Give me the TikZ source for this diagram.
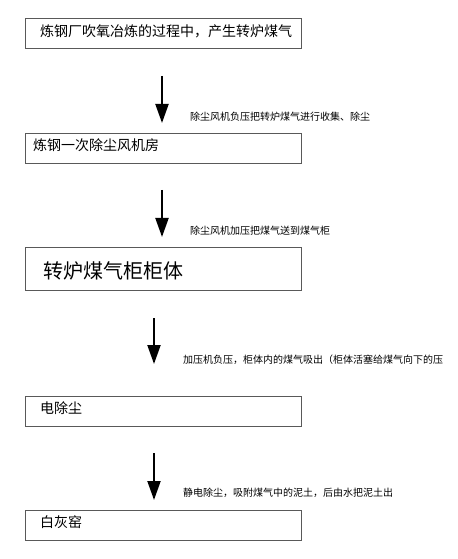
\documentclass[tikz,border=0pt]{standalone}
\usepackage{fontspec}
\newfontfamily\cjk{Noto Sans CJK SC}
\usetikzlibrary{arrows.meta}

\begin{document}
\begin{tikzpicture}[x=1bp,y=-1bp,
    stage/.style={draw=black!65,line width=0.8bp,anchor=north west,
                  minimum width=276bp,inner sep=0pt},%process box
    stagetext/.style={anchor=west,inner sep=0pt,font=\cjk\fontsize{14bp}{16bp}\selectfont},
    flow/.style={line width=2bp,-{Triangle[width=13bp,length=19bp]}},%thick down arrow
    note/.style={anchor=west,inner sep=0pt,font=\cjk\fontsize{10bp}{12bp}\selectfont}
                ]
\useasboundingbox (0,0) rectangle (458,559);
% boxes
\node[stage,minimum height=30bp] (furnace) at (25,18) {};
\node[stage,minimum height=30bp] (fanroom) at (25,133) {};
\node[stage,minimum height=43bp] (holder)  at (25,247) {};
\node[stage,minimum height=30bp] (esp)     at (25,396) {};
\node[stage,minimum height=30bp] (kiln)    at (25,510) {};
% box texts
\node[stagetext] (furnacetext) at (40,31)  {炼钢厂吹氧冶炼的过程中，产生转炉煤气};
\node[stagetext] (fanroomtext) at (33,145) {炼钢一次除尘风机房};
\node[stagetext,font=\cjk\fontsize{20bp}{22bp}\selectfont] (holdertext) at (43,271) {转炉煤气柜柜体};
\node[stagetext] (esptext)     at (40,408) {电除尘};
\node[stagetext] (kilntext)    at (40,522) {白灰窑};
% arrows
\coordinate (a1) at (162,76);  \coordinate (b1) at (162,123);
\coordinate (a2) at (162,190); \coordinate (b2) at (162,237);
\coordinate (a3) at (154,318); \coordinate (b3) at (154,364);
\coordinate (a4) at (154,453); \coordinate (b4) at (154,500);
\draw[flow] (a1) -- (b1);
\draw[flow] (a2) -- (b2);
\draw[flow] (a3) -- (b3);
\draw[flow] (a4) -- (b4);
% notes beside the arrows
\node[note] (collect)  at (190,117) {除尘风机负压把转炉煤气进行收集、除尘};
\node[note] (send)     at (190,231) {除尘风机加压把煤气送到煤气柜};
\node[note] (draw)     at (183,360) {加压机负压，柜体内的煤气吸出（柜体活塞给煤气向下的压};
\node[note] (clean)    at (183,493) {静电除尘，吸附煤气中的泥土，后由水把泥土出};
\end{tikzpicture}
\end{document}
